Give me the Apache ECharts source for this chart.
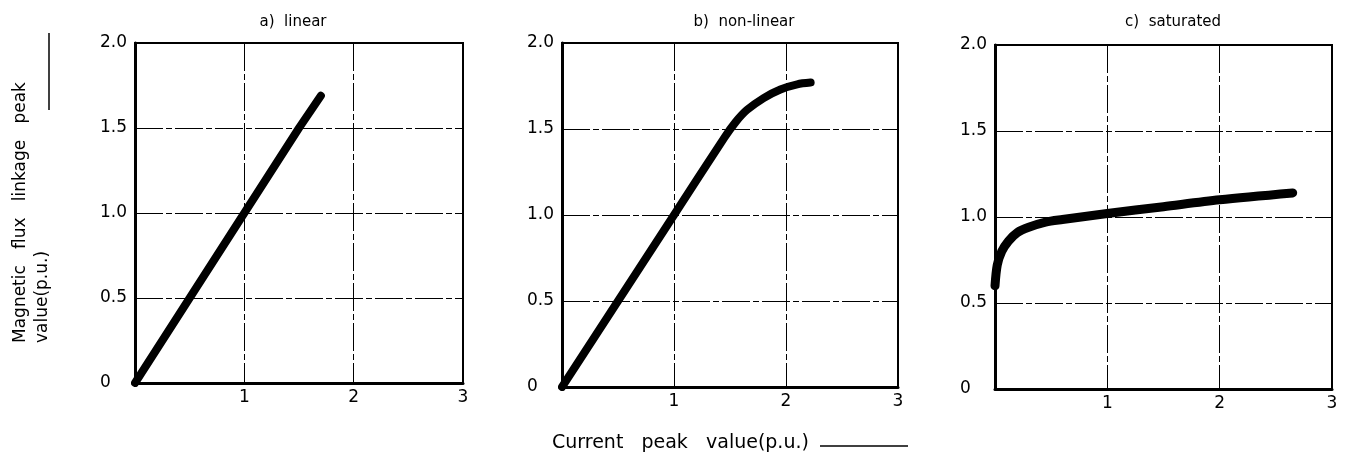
<!DOCTYPE html>
<html>
<head>
<meta charset="utf-8">
<script src="https://cdn.jsdelivr.net/npm/echarts@6/dist/echarts.min.js"></script>
<style>
  html, body { margin: 0; padding: 0; background: #fff; }
  #chart { width: 1348px; height: 463px; }
</style>
</head>
<body>
<div id="chart"></div>
<script>
// panel titles
var panelTitles = ['a)  linear', 'b)  non-linear', 'c)  saturated'];

// curve points [current, flux]
var linearData = [[0, 0], [0.5, 0.5], [1, 1], [1.5, 1.5], [1.7, 1.69]];
var nonLinearData = [[0, 0], [0.5, 0.5], [1, 1], [1.45, 1.45], [1.55, 1.54],
  [1.65, 1.61], [1.8, 1.68], [1.95, 1.73], [2.1, 1.76], [2.22, 1.77]];
var saturatedData = [[0, 0.6], [0.02, 0.72], [0.06, 0.8], [0.12, 0.86], [0.2, 0.91],
  [0.3, 0.94], [0.45, 0.97], [0.6, 0.985], [1, 1.02], [1.5, 1.06], [2, 1.1], [2.65, 1.14]];

// tick labels
var xTicks = { 0: '', 1: '1', 2: '2', 3: '3' };
var yTicks = { 0: '0', 0.5: '0.5', 1: '1.0', 1.5: '1.5', 2: '2.0' };

var xName = 'Current   peak   value(p.u.)';
var yName1 = 'Magnetic   flux   linkage   peak';
var yName2 = 'value(p.u.)';

var FONT = 'DejaVu Sans';

var chart = echarts.init(document.getElementById('chart'));

// grid boxes
var grids = [
  { left: 135, top: 43, width: 328, height: 340 },
  { left: 562, top: 43, width: 336, height: 344 },
  { left: 995, top: 45, width: 337, height: 344 }
];
var titleCenters = [288, 739, 1168];
var seriesData = [linearData, nonLinearData, saturatedData];
var lineWidths = [8, 8, 9];

var gridOpts = [], xAxes = [], yAxes = [], series = [], titles = [];
grids.forEach(function(g, i) {
  gridOpts.push({
    left: g.left, top: g.top, width: g.width, height: g.height,
    show: true, borderColor: '#000', borderWidth: 2, backgroundColor: 'transparent'
  });
  xAxes.push({
    type: 'value', gridIndex: i, min: 0, max: 3, interval: 1,
    axisLine: { show: true, onZero: false, lineStyle: { color: '#000', width: 3 } },
    axisTick: { show: false },
    axisLabel: {
      margin: 6, color: '#000', fontFamily: FONT, fontSize: 17,
      formatter: function(v) { return xTicks[v]; }
    },
    splitLine: { show: true, lineStyle: { color: '#000', width: 1, type: [28, 3, 6, 3] } }
  });
  yAxes.push({
    type: 'value', gridIndex: i, min: 0, max: 2, interval: 0.5,
    axisLine: { show: true, onZero: false, lineStyle: { color: '#000', width: 3 } },
    axisTick: { show: false },
    axisLabel: {
      margin: 35, align: 'left', color: '#000', fontFamily: FONT, fontSize: 17,
      formatter: function(v) { return yTicks[v]; }
    },
    splitLine: { show: true, lineStyle: { color: '#000', width: 1, type: [28, 3, 6, 3] } }
  });
  series.push({
    type: 'line', xAxisIndex: i, yAxisIndex: i,
    data: seriesData[i], showSymbol: false, smooth: i === 0 ? false : 0.3,
    lineStyle: { color: '#000', width: lineWidths[i], cap: 'round', join: 'round' },
    z: 5
  });
  titles.push({
    text: panelTitles[i], left: titleCenters[i], top: 10,
    textAlign: 'center',
    textStyle: { color: '#000', fontFamily: FONT, fontSize: 15, fontWeight: 'normal' }
  });
});

chart.setOption({
  backgroundColor: '#fff',
  animation: false,
  title: titles,
  grid: gridOpts,
  xAxis: xAxes,
  yAxis: yAxes,
  series: series,
  graphic: [
    {
      type: 'text', x: 21, y: 343, rotation: Math.PI / 2,
      style: { text: yName1, fill: '#000', font: '17px "' + FONT + '"', textAlign: 'left', textVerticalAlign: 'middle' }
    },
    {
      type: 'text', x: 43, y: 343, rotation: Math.PI / 2,
      style: { text: yName2, fill: '#000', font: '17px "' + FONT + '"', textAlign: 'left', textVerticalAlign: 'middle' }
    },
    {
      type: 'line', shape: { x1: 49, y1: 33, x2: 49, y2: 110 },
      style: { stroke: '#000', lineWidth: 1.5 }
    },
    {
      type: 'text', x: 552, y: 443,
      style: { text: xName, fill: '#000', font: '19px "' + FONT + '"', textAlign: 'left', textVerticalAlign: 'middle' }
    },
    {
      type: 'line', shape: { x1: 820, y1: 446, x2: 908, y2: 446 },
      style: { stroke: '#000', lineWidth: 1.5 }
    }
  ]
});
</script>
</body>
</html>
